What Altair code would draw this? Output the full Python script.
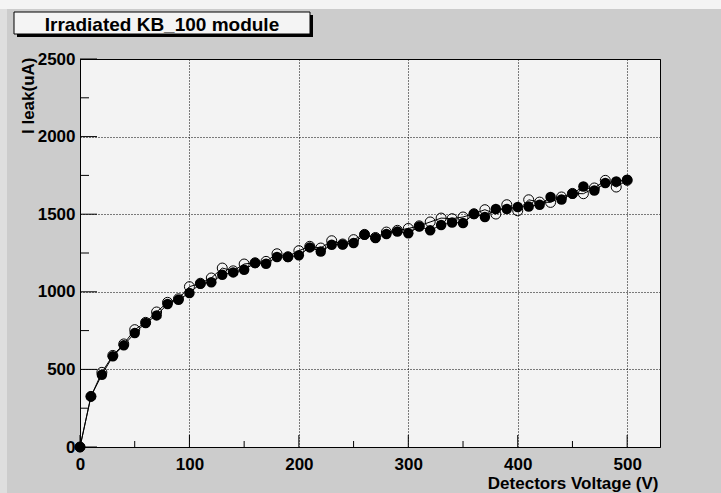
import altair as alt
import pandas as pd

# ---------------- data ----------------
voltage = [0, 10, 20, 30, 40, 50, 60, 70, 80, 90,
           100, 110, 120, 130, 140, 150, 160, 170, 180, 190,
           200, 210, 220, 230, 240, 250, 260, 270, 280, 290,
           300, 310, 320, 330, 340, 350, 360, 370, 380, 390,
           400, 410, 420, 430, 440, 450, 460, 470, 480, 490, 500]

ileak_filled = [0, 326, 466, 584, 655, 734, 799, 848, 921, 949,
                992, 1052, 1061, 1110, 1125, 1142, 1185, 1181, 1224, 1224,
                1235, 1286, 1260, 1303, 1305, 1314, 1368, 1346, 1372, 1389,
                1377, 1421, 1396, 1430, 1447, 1443, 1501, 1482, 1533, 1533,
                1546, 1550, 1561, 1611, 1595, 1632, 1679, 1653, 1701, 1711, 1722]

ileak_open = [0, 326, 481, 590, 664, 756, 803, 870, 932, 955,
              1033, 1055, 1089, 1153, 1135, 1179, 1187, 1196, 1245, 1226,
              1265, 1293, 1282, 1329, 1308, 1336, 1370, 1350, 1385, 1396,
              1408, 1425, 1450, 1475, 1471, 1482, 1503, 1529, 1501, 1561,
              1522, 1593, 1578, 1576, 1611, 1634, 1632, 1669, 1718, 1675, 1718]

y_major_ticks = [0, 500, 1000, 1500, 2000, 2500]
y_minor_ticks = [250, 750, 1250, 1750, 2250]
x_major_ticks = [0, 100, 200, 300, 400, 500]
x_minor_ticks = [50, 150, 250, 350, 450]

title_text = "Irradiated KB_100 module"
x_title = "Detectors Voltage (V)"
y_title = "I leak(uA)"

# ---------------- styling ----------------
FONT = "Liberation Sans"
W, H = 580, 388
PAD_L, PAD_T = 80, 59

df = pd.DataFrame({"V": voltage, "filled": ileak_filled, "open": ileak_open})

xs = alt.Scale(domain=[0, 530], nice=False, zero=False)
ys = alt.Scale(domain=[0, 2500], nice=False)

x_axis = alt.Axis(
    values=x_major_ticks, title=x_title, grid=True, gridDash=[1, 2],
    gridColor="black", gridOpacity=1, gridWidth=1, ticks=False, domain=False,
    labelFont=FONT, labelFontWeight="bold", labelFontSize=17, labelColor="black",
    labelPadding=9, labelFlush=False, labelOverlap=False, format="d",
    titleFont=FONT, titleFontWeight="bold", titleFontSize=17, titleColor="black",
    titleAlign="right", titleBaseline="alphabetic", titleX=578, titleY=41,
)
y_axis = alt.Axis(
    values=y_major_ticks, title=y_title, grid=True, gridDash=[1, 2],
    gridColor="black", gridOpacity=1, gridWidth=1, ticks=False, domain=False,
    labelFont=FONT, labelFontWeight="bold", labelFontSize=17, labelColor="black",
    labelPadding=5, labelFlush=False, labelOverlap=False, format="d",
    titleFont=FONT, titleFontWeight="bold", titleFontSize=17, titleColor="black",
    titleAngle=270, titleAlign="right", titleBaseline="alphabetic",
    titleX=-47, titleY=-2,
)

def X(field):
    return alt.X(field, scale=xs, axis=x_axis)

def Y(field):
    return alt.Y(field, scale=ys, axis=y_axis)

base = alt.Chart(df)

line_open = base.mark_line(color="black", strokeWidth=1).encode(x=X("V:Q"), y=Y("open:Q"))
pts_open = base.mark_point(shape="circle", filled=False, stroke="black",
                           strokeWidth=1, size=100, opacity=1).encode(x=X("V:Q"), y=Y("open:Q"))
line_filled = base.mark_line(color="black", strokeWidth=1).encode(x=X("V:Q"), y=Y("filled:Q"))
pts_filled = base.mark_circle(color="black", size=110, opacity=1).encode(x=X("V:Q"), y=Y("filled:Q"))

# inward ticks (ROOT style)
ymaj = alt.Chart(pd.DataFrame({"t": y_major_ticks})).mark_rule(color="black", strokeWidth=1).encode(
    y=Y("t:Q"), x=alt.value(0), x2=alt.value(17))
ymin = alt.Chart(pd.DataFrame({"t": y_minor_ticks})).mark_rule(color="black", strokeWidth=1).encode(
    y=Y("t:Q"), x=alt.value(0), x2=alt.value(9))
xmaj = alt.Chart(pd.DataFrame({"t": x_major_ticks})).mark_rule(color="black", strokeWidth=1).encode(
    x=X("t:Q"), y=alt.value(H), y2=alt.value(H - 12))
xmin = alt.Chart(pd.DataFrame({"t": x_minor_ticks})).mark_rule(color="black", strokeWidth=1).encode(
    x=X("t:Q"), y=alt.value(H), y2=alt.value(H - 6))

one = pd.DataFrame({"t": [title_text]})
strip_top = alt.Chart(one).mark_rect(color="#f4f4f4").encode(
    x=alt.value(-PAD_L), x2=alt.value(721 - PAD_L), y=alt.value(-PAD_T), y2=alt.value(9 - PAD_T))
strip_left = alt.Chart(one).mark_rect(color="#dedede").encode(
    x=alt.value(-PAD_L), x2=alt.value(7 - PAD_L), y=alt.value(9 - PAD_T), y2=alt.value(493 - PAD_T))
box_shadow = alt.Chart(one).mark_rect(color="black").encode(
    x=alt.value(17 - PAD_L), x2=alt.value(313 - PAD_L), y=alt.value(15 - PAD_T), y2=alt.value(37 - PAD_T))
box = alt.Chart(one).mark_rect(fill="#f4f4f4", stroke="black", strokeWidth=1).encode(
    x=alt.value(14 - PAD_L), x2=alt.value(310 - PAD_L), y=alt.value(12 - PAD_T), y2=alt.value(34 - PAD_T))
title_mark = alt.Chart(one).mark_text(font=FONT, fontWeight="bold", fontSize=19,
                                      color="black", align="center", baseline="alphabetic").encode(
    text="t:N", x=alt.value(162 - PAD_L), y=alt.value(31 - PAD_T))

chart = alt.layer(
    line_open, pts_open, line_filled, pts_filled,
    ymaj, ymin, xmaj, xmin,
    strip_top, strip_left, box_shadow, box, title_mark,
).properties(
    width=W, height=H,
    autosize=alt.AutoSizeParams(type="none"),
    padding={"left": PAD_L, "top": PAD_T, "right": 721 - PAD_L - W, "bottom": 493 - PAD_T - H},
    background="#cccccc",
).configure_view(
    fill="#f3f3f3", stroke="black", strokeWidth=1,
)

chart.save("out.html", embed_options={"renderer": "svg", "actions": False})
